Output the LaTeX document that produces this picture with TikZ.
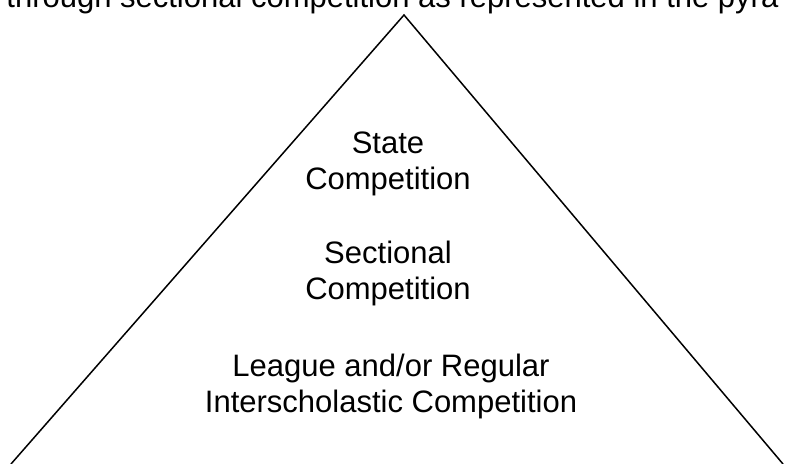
\documentclass[tikz,border=0pt]{standalone}
\usepackage{fontspec}
\setmainfont{Liberation Sans}
\usetikzlibrary{positioning}

\begin{document}
\begin{tikzpicture}[x=0.5pt, y=-0.5pt]

      \def\W{788}
      \def\H{464}

      \tikzset{tier/.style={align=center, anchor=base, inner sep=0pt,
          font=\fontsize{15.5}{18.3}\selectfont}}

      \useasboundingbox (0,0) rectangle (\W,\H);
      \clip (0,0) rectangle (\W,\H);

      \node[tier, anchor=base west] (caption) at (6,8) {through sectional competition as represented in the pyra};

      \coordinate (apex) at (404,15);
      \coordinate (baseL) at (11,464);
      \coordinate (baseR) at (783,464);
      \draw[line width=0.75pt] (baseL) -- (apex) -- (baseR);

      \node[tier] (state)     at (388,190) {State\\Competition};
      \node[tier] (sectional) at (388,300) {Sectional\\Competition};
      \node[tier] (league)    at (391,413) {League and/or Regular\\Interscholastic Competition};

    \end{tikzpicture}
\end{document}
